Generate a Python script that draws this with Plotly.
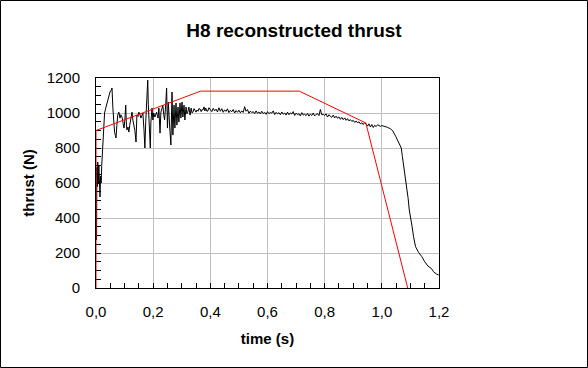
import plotly.graph_objects as go

# measured thrust (black)
time_meas = [0.002, 0.003, 0.005, 0.006, 0.008, 0.010, 0.012, 0.014, 0.016, 0.018,
             0.020, 0.022, 0.025, 0.027, 0.030, 0.034, 0.038, 0.042, 0.046, 0.049,
             0.053, 0.056, 0.059, 0.062, 0.065, 0.068, 0.070, 0.073, 0.076, 0.080,
             0.084, 0.087, 0.091, 0.095, 0.098, 0.101, 0.104, 0.106, 0.108, 0.112,
             0.115, 0.118, 0.121, 0.126, 0.129, 0.132, 0.136, 0.140, 0.143, 0.147,
             0.150, 0.154, 0.157, 0.160, 0.164, 0.168, 0.171, 0.174, 0.178, 0.181,
             0.183, 0.185, 0.188, 0.190, 0.192, 0.196, 0.199, 0.202, 0.206, 0.209,
             0.212, 0.215, 0.217, 0.220, 0.224, 0.227, 0.230, 0.234, 0.237, 0.240,
             0.244, 0.247, 0.250, 0.253, 0.257, 0.260, 0.262, 0.266, 0.269, 0.273,
             0.276, 0.280, 0.283, 0.287, 0.290, 0.294, 0.297, 0.301, 0.304, 0.308,
             0.311, 0.315, 0.318, 0.321, 0.325, 0.329, 0.333, 0.336, 0.339, 0.343,
             0.346, 0.350, 0.353, 0.357, 0.360, 0.364, 0.368, 0.371, 0.374, 0.378,
             0.381, 0.384, 0.388, 0.391, 0.395,
             0.400, 0.405, 0.410, 0.415, 0.420, 0.425, 0.430, 0.435, 0.440, 0.445,
             0.450, 0.455, 0.460, 0.465, 0.470, 0.475, 0.480, 0.485, 0.490, 0.495,
             0.500, 0.505, 0.510, 0.515, 0.520, 0.525, 0.530, 0.535, 0.540, 0.545,
             0.550, 0.555, 0.560, 0.565, 0.570, 0.575, 0.580, 0.585, 0.590, 0.595,
             0.600, 0.605, 0.610, 0.615, 0.620, 0.625, 0.630, 0.635, 0.640, 0.645,
             0.650, 0.655, 0.660, 0.665, 0.670, 0.675, 0.680, 0.685, 0.690, 0.695,
             0.700, 0.705, 0.710, 0.715, 0.720, 0.725, 0.730, 0.735, 0.740, 0.745,
             0.750, 0.755, 0.760, 0.765, 0.770, 0.775, 0.780, 0.785, 0.790, 0.795,
             0.800, 0.805, 0.810, 0.815, 0.820, 0.825, 0.830, 0.835, 0.840, 0.845,
             0.850, 0.855, 0.860, 0.865, 0.870, 0.875, 0.880, 0.885, 0.890, 0.895,
             0.900, 0.905, 0.910, 0.915, 0.920, 0.925, 0.930, 0.935, 0.940, 0.945,
             0.950, 0.955, 0.960, 0.965, 0.970, 0.975, 0.980, 0.985, 0.990, 0.995,
             1.00, 1.01, 1.02, 1.03, 1.038, 1.049, 1.059, 1.068, 1.072, 1.077,
             1.082, 1.087, 1.092, 1.096, 1.101, 1.106, 1.111, 1.118, 1.129, 1.140,
             1.150, 1.161, 1.173, 1.181, 1.191, 1.199]
thrust_meas = [274, 690, 580, 720, 600, 700, 560, 520, 640, 600,
               700, 777, 820, 874, 1000, 1028, 1057, 1070, 1100, 1120,
               1130, 1143, 1028, 950, 890, 870, 857, 930, 988, 1005,
               971, 990, 977, 940, 914, 960, 1045, 950, 903, 920,
               891, 930, 971, 1005, 960, 931, 900, 834, 988, 980,
               1005, 990, 971, 985, 1000, 900, 800, 950, 1063, 1188,
               1050, 988, 880, 800, 948, 1028, 960, 1000, 977, 995,
               1005, 985, 971, 1028, 885, 1005, 1020, 1045, 990, 960,
               1050, 1143, 914, 1063, 943, 880, 817, 1120, 874, 1045,
               914, 1057, 931, 1034, 948, 1057, 971, 1063, 977, 1045,
               960, 1034, 995, 1005, 1034, 988, 1028, 1000, 1005, 1025,
               1017, 1005, 1017, 1010, 1025, 1023, 1008, 1020, 1017, 1035,
               1012, 1028, 1010, 1011, 1030,
               1020, 1008, 1027, 1012, 1022, 1006, 1030, 1010, 1025, 1004,
               1018, 1009, 1024, 1002, 1015, 1007, 1020, 1000, 1014, 1004,
               1016, 1001, 1012, 1003, 1036, 1010, 1020, 998, 1011, 1002,
               1008, 996, 1012, 998, 1006, 995, 1010, 997, 1004, 992,
               1008, 996, 1003, 999, 1012, 991, 1004, 995, 1002, 990,
               1006, 993, 1000, 988, 1005, 990, 1001, 994, 1008, 986,
               999, 990, 996, 983, 1002, 988, 993, 985, 998, 982,
               994, 986, 1000, 983, 992, 996, 985, 1020, 990, 992,
               986, 995, 977, 990, 981, 975, 988, 972, 982, 970,
               978, 964, 975, 962, 972, 958, 968, 955, 962, 952,
               958, 946, 954, 944, 950, 938, 944, 934, 946, 932,
               925, 938, 920, 934, 917, 930, 922, 933, 926, 924,
               928, 925, 918, 910, 899, 865, 827, 800, 750, 693,
               636, 579, 512, 446, 407, 350, 293, 236, 202, 179,
               150, 126, 112, 93, 80, 74]

# reconstructed thrust (red)
time_recon = [0.0, 0.0, 0.366, 0.711, 0.944, 1.0905]
thrust_recon = [0, 900, 1125, 1125, 943, 0]

x_ticks = [0.0, 0.2, 0.4, 0.6, 0.8, 1.0, 1.2]
y_ticks = [0, 200, 400, 600, 800, 1000, 1200]

fig = go.Figure()
fig.add_trace(go.Scatter(x=time_meas, y=thrust_meas, mode="lines",
                         line=dict(color="black", width=1), cliponaxis=False,
                         showlegend=False))
fig.add_trace(go.Scatter(x=time_recon, y=thrust_recon, mode="lines",
                         line=dict(color="#ff0000", width=1), cliponaxis=False,
                         showlegend=False))

W, H = 588, 368
L, R, T, B = 96, 439, 78, 288
pw, ph = R - L, B - T

axis_font = dict(family="Liberation Sans, Arial, sans-serif", size=15, color="black")
title_font = dict(family="Liberation Sans, Arial, sans-serif", size=15, color="black")

fig.update_layout(
    width=W, height=H,
    margin=dict(l=L, r=W - R, t=T, b=H - B, pad=0),
    paper_bgcolor="white", plot_bgcolor="white",
    separators=",.",
    title=dict(text="<b>H8 reconstructed thrust</b>", x=0.5, xref="container",
               xanchor="center", y=1 - 30 / H, yref="container", yanchor="middle",
               font=dict(family="Liberation Sans, Arial, sans-serif", size=19, color="black")),
    xaxis=dict(range=[0, 1.2], tickvals=x_ticks, tickformat=".1f",
               showgrid=True, gridcolor="#c0c0c0", gridwidth=1,
               showline=True, linecolor="black", linewidth=1, mirror=True,
               ticks="inside", ticklen=5, tickcolor="black",
               minor=dict(dtick=0.05, ticks="inside", ticklen=5, tickcolor="black", showgrid=False),
               tickfont=axis_font, ticklabelstandoff=10, zeroline=False,
               layer="below traces",
               title=dict(text="<b>time (s)</b>", font=title_font, standoff=14)),
    yaxis=dict(range=[0, 1200], tickvals=y_ticks,
               showgrid=True, gridcolor="#c0c0c0", gridwidth=1,
               showline=True, linecolor="black", linewidth=1, mirror=True,
               ticks="inside", ticklen=5, tickcolor="black",
               minor=dict(dtick=50, ticks="inside", ticklen=5, tickcolor="black", showgrid=False),
               tickfont=axis_font, ticklabelstandoff=12, zeroline=False,
               layer="below traces",
               title=dict(text="<b>thrust (N)</b>", font=title_font, standoff=8)),
)

# outer frame of the chart area
fig.add_shape(type="rect", xref="paper", yref="paper",
              x0=(0.5 - L) / pw, x1=(W - 0.5 - L) / pw,
              y0=(B - (H - 0.5)) / ph, y1=(B - 0.5) / ph,
              line=dict(color="black", width=1), fillcolor="rgba(0,0,0,0)", layer="above")

fig.write_html("out.html", config={"displayModeBar": False},
               post_script="document.body.style.margin='0';document.body.style.overflow='hidden';")
